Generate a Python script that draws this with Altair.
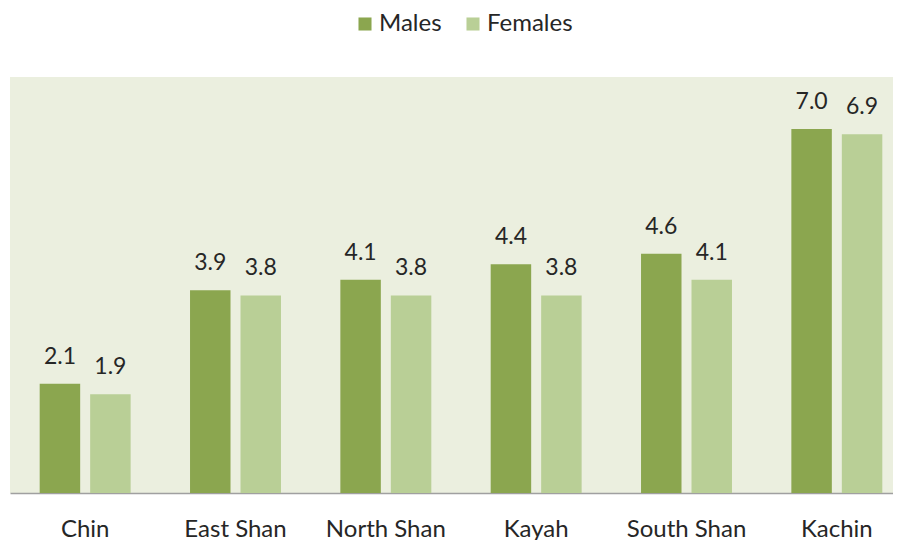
import altair as alt
import pandas as pd

regions = ["Chin", "East Shan", "North Shan", "Kayah", "South Shan", "Kachin"]
males = [2.1, 3.9, 4.1, 4.4, 4.6, 7.0]
females = [1.9, 3.8, 3.8, 3.8, 4.1, 6.9]
series = ["Males", "Females"]
colors = ["#8BA64F", "#B9CF96"]

rows = []
for r, m, f in zip(regions, males, females):
    rows.append({"region": r, "sex": "Males", "value": m})
    rows.append({"region": r, "sex": "Females", "value": f})
df = pd.DataFrame(rows)

FONT = "Lato"

x = alt.X("region:N", sort=regions, title=None,
          scale=alt.Scale(range=[0, 902], paddingInner=0.395, paddingOuter=0.1975),
          axis=alt.Axis(labelAngle=0, ticks=False, labelPadding=43, labelBaseline="alphabetic",
                        labelFontSize=24, labelFont=FONT, labelColor="#262626",
                        domainColor="#A0A0A0", domainWidth=1.5))
xo = alt.XOffset("sex:N", sort=series, scale=alt.Scale(paddingInner=0.198, paddingOuter=0))
y = alt.Y("value:Q", scale=alt.Scale(domain=[0, 8]), axis=None)

base = alt.Chart(df).encode(x=x, xOffset=xo, y=y)

bars = base.mark_bar().encode(
    color=alt.Color("sex:N", sort=series,
                    scale=alt.Scale(domain=series, range=colors),
                    legend=alt.Legend(title=None, orient="none", direction="horizontal",
                                      legendX=343, legendY=-65, symbolType="square",
                                      symbolSize=170, symbolStrokeWidth=0,
                                      labelFontSize=24, labelFont=FONT,
                                      labelColor="#262626", columnPadding=19,
                                      symbolOffset=0, labelOffset=2, padding=0))
)

labels = base.mark_text(baseline="alphabetic", dy=-20, fontSize=23, font=FONT,
                        color="#262626").encode(
    text=alt.Text("value:Q", format=".1f")
)

chart = (bars + labels).properties(
    width=883, height=416,
    autosize=alt.AutoSizeParams(type="none"),
    padding={"left": 2, "top": 69, "right": 0, "bottom": 47},
).configure_view(fill="#EBEFDF", stroke=None)

chart.save("out.html", embed_options={"renderer": "svg", "actions": False})
